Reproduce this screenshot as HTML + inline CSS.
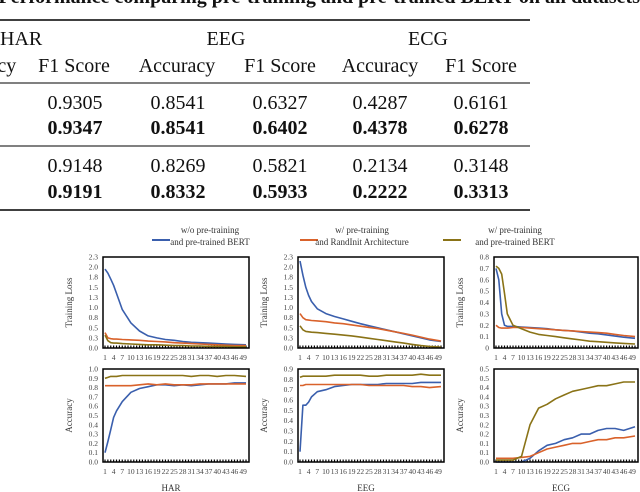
<!DOCTYPE html>
<html><head><meta charset="utf-8"><style>
body{margin:0;background:#fff;width:640px;height:492px;overflow:hidden}
svg{display:block;font-family:"Liberation Serif",serif}
</style></head><body>
<svg id="root" width="640" height="492" viewBox="0 0 640 492">
<g font-size="20" fill="#111">
<text x="640" y="3" text-anchor="end" font-weight="bold">Performance comparing pre-training and pre-trained BERT on all datasets</text>
<line x1="0" y1="20" x2="530" y2="20" stroke="#000" stroke-width="1.6"/>
<line x1="0" y1="83" x2="530" y2="83" stroke="#000" stroke-width="1"/>
<line x1="0" y1="146" x2="530" y2="146" stroke="#000" stroke-width="1"/>
<line x1="0" y1="210" x2="530" y2="210" stroke="#000" stroke-width="1.6"/>
<text x="0" y="45">HAR</text>
<text x="226" y="45" text-anchor="middle">EEG</text>
<text x="428" y="45" text-anchor="middle">ECG</text>
<g text-anchor="middle">
<text x="-22" y="72">Accuracy</text>
<text x="74" y="72">F1 Score</text>
<text x="177" y="72">Accuracy</text>
<text x="280" y="72">F1 Score</text>
<text x="380" y="72">Accuracy</text>
<text x="481" y="72">F1 Score</text>
</g>
<g text-anchor="middle">
<text x="75" y="109">0.9305</text><text x="178" y="109">0.8541</text><text x="280" y="109">0.6327</text><text x="380" y="109">0.4287</text><text x="481" y="109">0.6161</text>
<g font-weight="bold"><text x="75" y="134">0.9347</text><text x="178" y="134">0.8541</text><text x="280" y="134">0.6402</text><text x="380" y="134">0.4378</text><text x="481" y="134">0.6278</text></g>
<text x="75" y="172">0.9148</text><text x="178" y="172">0.8269</text><text x="280" y="172">0.5821</text><text x="380" y="172">0.2134</text><text x="481" y="172">0.3148</text>
<g font-weight="bold"><text x="75" y="198">0.9191</text><text x="178" y="198">0.8332</text><text x="280" y="198">0.5933</text><text x="380" y="198">0.2222</text><text x="481" y="198">0.3313</text></g>
</g>
</g>
<g font-size="9" fill="#333">
<g><line x1="152" y1="240" x2="170" y2="240" stroke="#3a5fad" stroke-width="2"/><text x="210" y="233" text-anchor="middle">w/o pre-training</text><text x="210" y="245" text-anchor="middle">and pre-trained BERT</text></g>
<g><line x1="300" y1="240" x2="318" y2="240" stroke="#d9622b" stroke-width="2"/><text x="362" y="233" text-anchor="middle">w/ pre-training</text><text x="362" y="245" text-anchor="middle">and RandInit Architecture</text></g>
<g><line x1="443" y1="240" x2="461" y2="240" stroke="#8a7317" stroke-width="2"/><text x="515" y="233" text-anchor="middle">w/ pre-training</text><text x="515" y="245" text-anchor="middle">and pre-trained BERT</text></g>
</g>
<g id="charts"></g>
</svg>
<script>
const epochs=[1,2,3,4,5,7,10,13,16,19,22,25,28,31,34,37,40,43,46,50];
const tickEpochs=[1,4,7,10,13,16,19,22,25,28,31,34,37,40,43,46,49];
const seriesNames=['w/o pre-training','w/ pre-training RandInit','w/ pre-training BERT'];
const harLossBlue=[1.95,1.85,1.7,1.55,1.35,0.95,0.62,0.42,0.3,0.25,0.21,0.19,0.16,0.14,0.13,0.12,0.11,0.1,0.09,0.08];
const harLossOrange=[0.38,0.25,0.23,0.22,0.22,0.21,0.2,0.19,0.17,0.16,0.15,0.13,0.12,0.11,0.1,0.09,0.08,0.07,0.06,0.06];
const harLossOlive=[0.32,0.18,0.13,0.12,0.12,0.11,0.1,0.09,0.08,0.08,0.07,0.06,0.06,0.05,0.05,0.04,0.04,0.04,0.03,0.03];
const eegLossBlue=[2.15,1.8,1.5,1.3,1.15,0.97,0.85,0.78,0.72,0.66,0.6,0.55,0.5,0.45,0.4,0.35,0.3,0.25,0.2,0.16];
const eegLossOrange=[0.85,0.75,0.7,0.69,0.68,0.67,0.65,0.62,0.6,0.57,0.54,0.51,0.48,0.44,0.4,0.36,0.32,0.27,0.22,0.17];
const eegLossOlive=[0.55,0.45,0.41,0.4,0.39,0.38,0.36,0.34,0.32,0.3,0.27,0.24,0.21,0.18,0.15,0.12,0.09,0.06,0.04,0.02];
const ecgLossBlue=[0.7,0.6,0.3,0.2,0.19,0.19,0.185,0.18,0.175,0.17,0.16,0.155,0.15,0.14,0.13,0.125,0.115,0.105,0.095,0.085];
const ecgLossOrange=[0.2,0.18,0.175,0.175,0.175,0.18,0.18,0.175,0.17,0.165,0.16,0.155,0.15,0.145,0.14,0.135,0.13,0.12,0.11,0.1];
const ecgLossOlive=[0.72,0.7,0.65,0.48,0.3,0.2,0.17,0.14,0.12,0.11,0.1,0.09,0.08,0.07,0.06,0.055,0.05,0.045,0.04,0.035];
const harAccBlue=[0.1,0.22,0.35,0.48,0.55,0.65,0.75,0.79,0.81,0.83,0.83,0.82,0.83,0.82,0.83,0.84,0.84,0.84,0.85,0.85];
const harAccOrange=[0.82,0.82,0.82,0.82,0.82,0.82,0.82,0.83,0.84,0.83,0.84,0.83,0.83,0.83,0.84,0.84,0.84,0.84,0.84,0.84];
const harAccOlive=[0.9,0.91,0.92,0.92,0.92,0.93,0.93,0.93,0.93,0.93,0.93,0.93,0.93,0.92,0.93,0.93,0.92,0.93,0.93,0.92];
const eegAccBlue=[0.1,0.55,0.55,0.58,0.63,0.68,0.7,0.73,0.74,0.75,0.75,0.75,0.75,0.76,0.76,0.76,0.76,0.77,0.77,0.77];
const eegAccOrange=[0.74,0.74,0.75,0.75,0.75,0.75,0.75,0.75,0.75,0.75,0.75,0.74,0.74,0.74,0.74,0.74,0.73,0.73,0.72,0.73];
const eegAccOlive=[0.82,0.83,0.83,0.83,0.83,0.83,0.83,0.84,0.84,0.84,0.84,0.83,0.83,0.84,0.84,0.84,0.84,0.85,0.84,0.84];
const ecgAccBlue=[0,0,0,0,0,0,0,0.02,0.06,0.09,0.1,0.12,0.13,0.15,0.15,0.17,0.18,0.18,0.17,0.19];
const ecgAccOrange=[0.02,0.02,0.02,0.02,0.02,0.02,0.025,0.03,0.05,0.07,0.08,0.09,0.1,0.1,0.11,0.12,0.12,0.13,0.13,0.14];
const ecgAccOlive=[0.01,0.01,0.01,0.01,0.01,0.01,0.03,0.2,0.29,0.31,0.34,0.36,0.38,0.39,0.4,0.41,0.41,0.42,0.43,0.43];
const lossTicksBig=['0.0','0.3','0.5','0.8','1.0','1.3','1.5','1.8','2.0','2.3'];
const lossTicksEcg=['0','0.1','0.2','0.3','0.4','0.5','0.6','0.7','0.8'];
const accTicksHar=['0.0','0.1','0.2','0.3','0.4','0.5','0.6','0.7','0.8','0.9','1.0'];
const accTicksEeg=['0.0','0.1','0.2','0.3','0.4','0.5','0.6','0.7','0.8','0.9'];
const accTicksEcg=['0.0','0.1','0.1','0.2','0.2','0.3','0.3','0.4','0.4','0.5','0.5'];
const colors=['#3a5fad','#d9622b','#8a7317'];
const NS='http://www.w3.org/2000/svg';
const root=document.getElementById('charts');
function mk(tag,attrs,parent){const e=document.createElementNS(NS,tag);for(const k in attrs)e.setAttribute(k,attrs[k]);parent.appendChild(e);return e;}
const panels=[
 {id:'har-loss',x:103,y:257,w:146,h:91,max:2.25,ticks:lossTicksBig,title:'Training Loss',tx:72,series:[harLossBlue,harLossOrange,harLossOlive]},
 {id:'eeg-loss',x:298,y:257,w:146,h:91,max:2.25,ticks:lossTicksBig,title:'Training Loss',tx:267,series:[eegLossBlue,eegLossOrange,eegLossOlive]},
 {id:'ecg-loss',x:494,y:257,w:144,h:91,max:0.8,ticks:lossTicksEcg,title:'Training Loss',tx:463,series:[ecgLossBlue,ecgLossOrange,ecgLossOlive]},
 {id:'har-accuracy',x:103,y:369,w:146,h:93,max:1.0,ticks:accTicksHar,title:'Accuracy',tx:72,series:[harAccBlue,harAccOrange,harAccOlive],label:'HAR'},
 {id:'eeg-accuracy',x:298,y:369,w:146,h:93,max:0.9,ticks:accTicksEeg,title:'Accuracy',tx:267,series:[eegAccBlue,eegAccOrange,eegAccOlive],label:'EEG'},
 {id:'ecg-accuracy',x:494,y:369,w:144,h:93,max:0.5,ticks:accTicksEcg,title:'Accuracy',tx:463,series:[ecgAccBlue,ecgAccOrange,ecgAccOlive],label:'ECG'}
];
panels.forEach(p=>{
 const g=mk('g',{},root);
 
 
 const xs=e=>p.x+2+(e-1)*(p.w-5)/49;
 const ys=v=>p.y+p.h-v/p.max*p.h;
 const n=p.ticks.length;
 p.ticks.forEach((t,i)=>{
  const yy=p.y+p.h-i*p.h/(n-1);
  const tt=mk('text',{x:p.x-5,y:yy+2.5,'font-size':7.5,'text-anchor':'end',fill:'#444'},g);
  tt.textContent=t;
  
  
 });
 const yt=mk('text',{x:0,y:0,'font-size':9,'text-anchor':'middle',fill:'#333',transform:`translate(${p.tx},${p.y+p.h/2}) rotate(-90)`},g);
 yt.textContent=p.title;
 
 
 tickEpochs.forEach(e=>{
  const tt=mk('text',{x:xs(e),y:p.y+p.h+12,'font-size':7.5,'text-anchor':'middle',fill:'#444'},g);
  tt.textContent=e;
  
  
 });
 for(let e=1;e<=50;e++){mk('line',{x1:xs(e),x2:xs(e),y1:p.y+p.h,y2:p.y+p.h-2.5,stroke:'#000','stroke-width':1.2},g);}
 p.series.forEach((s,si)=>{
  const pts=s.map((v,i)=>xs(epochs[i]).toFixed(1)+','+ys(v).toFixed(1)).join(' ');
  const pl=mk('polyline',{points:pts,fill:'none',stroke:colors[si],'stroke-width':1.6,'stroke-linejoin':'round'},g);
  
  
 });
 const fr=mk('rect',{x:p.x,y:p.y,width:p.w,height:p.h,fill:'none',stroke:'#000','stroke-width':1.5},g);
 
 
 if(p.label){
  const lt=mk('text',{x:p.x+p.w/2-5,y:491,'font-size':9,'text-anchor':'middle',fill:'#333'},g);
  lt.textContent=p.label;
  
  
 }
});
</script>
</body></html>
